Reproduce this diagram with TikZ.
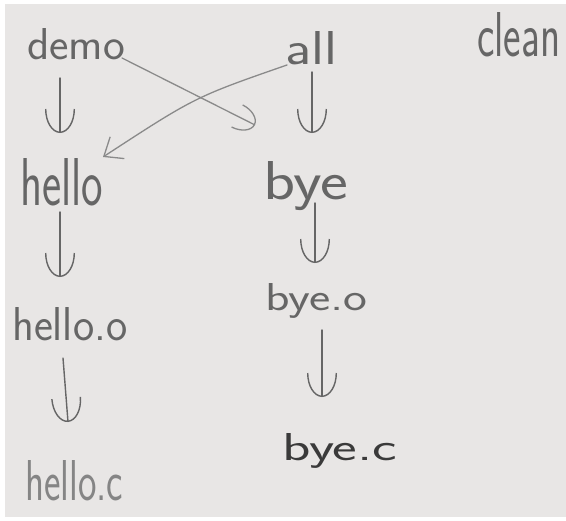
\documentclass[tikz,border=0pt]{standalone}
\usepackage{graphicx}
\usetikzlibrary{arrows.meta}

\definecolor{paper}{HTML}{E8E6E5}
\definecolor{pencil}{HTML}{666666}
\definecolor{softpencil}{HTML}{858585}
\definecolor{ink}{HTML}{3A3A3A}
\definecolor{faintline}{HTML}{8A8A8A}

% a handwritten word: target width, ascender height, text
\newcommand\handword[3]{\resizebox{#1}{#2}{#3}}

\tikzset{
  word/.style={font=\sffamily\fontsize{40}{40}\selectfont, inner sep=0pt,
                anchor=base west, text=pencil},
  down/.style={draw=pencil, line width=1.4bp, line cap=round,
               -{Arc Barb[length=24bp, width=30bp, arc=180]}},
  crossarc/.style={draw=faintline, line width=1.3bp, line cap=round,
               -{Arc Barb[length=20bp, width=26bp, arc=180]}},
  crossbarb/.style={draw=faintline, line width=1.3bp, line cap=round,
               -{Straight Barb[length=16bp, width=26bp]}},
}

\begin{document}
\begin{tikzpicture}[x=1bp, y=-1bp]
  \useasboundingbox (0,0) rectangle (566,521);
  % sheet of paper on a white ground
  \fill[white] (0,0) rectangle (566,521);
  \fill[paper] (5,4) rectangle (566,517);

  % targets
  \node[word] (demo)   at (27,60)   {\handword{98bp}{31bp}{demo}};
  \node[word] (all)    at (285,65)  {\handword{52bp}{33bp}{all}};
  \node[word] (clean)  at (477,57)  {\handword{83bp}{44bp}{clean}};
  \node[word] (hello)  at (20,205)  {\handword{83bp}{47bp}{hello}};
  \node[word] (bye)    at (263,200) {\handword{85bp}{38bp}{bye}};
  \node[word] (helloo) at (12,340)  {\handword{115bp}{33bp}{hello.o}};
  \node[word] (byeo)   at (265,310) {\handword{102bp}{27bp}{bye.o}};
  \node[word, text=softpencil] (helloc) at (25,500) {\handword{98bp}{40bp}{hello.c}};
  \node[word, text=ink] (byec) at (282,460) {\handword{115bp}{27bp}{bye.c}};

  % dependency arrows
  \draw[down] ([shift={(33,18)}]demo.base west)   -- ([shift={(40,-72)}]hello.base west);
  \draw[down] ([shift={(27,7)}]all.base west)     -- ([shift={(49,-67)}]bye.base west);
  \draw[down] ([shift={(40,7)}]hello.base west)   -- ([shift={(48,-63)}]helloo.base west);
  \draw[down] ([shift={(52,3)}]bye.base west)     -- ([shift={(50,-47)}]byeo.base west);
  \draw[down] ([shift={(51,18)}]helloo.base west) -- ([shift={(43,-78)}]helloc.base west);
  \draw[down] ([shift={(57,20)}]byeo.base west)   -- ([shift={(40,-63)}]byec.base west);

  % crossing dependencies
  \draw[crossarc] ([shift={(95,-2)}]demo.base west) -- ([shift={(-8,-75)}]bye.base west);
  \draw[crossbarb] ([shift={(2,0)}]all.base west) .. controls (195,97) .. ([shift={(83,-48)}]hello.base west);
\end{tikzpicture}
\end{document}
